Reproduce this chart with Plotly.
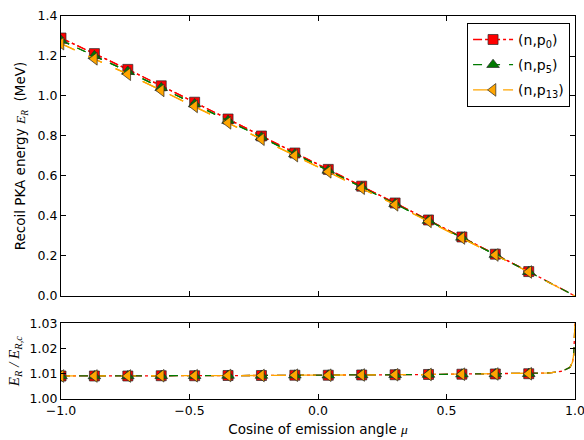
import plotly.graph_objects as go
from plotly.subplots import make_subplots

# ---- data ----
mu_markers = [-1.0, -0.87, -0.74, -0.61, -0.48, -0.35, -0.22, -0.09, 0.04, 0.17, 0.30, 0.43, 0.56, 0.69, 0.82]
e_p0 = [1.290, 1.212, 1.133, 1.051, 0.969, 0.885, 0.800, 0.715, 0.633, 0.549, 0.465, 0.380, 0.295, 0.209, 0.122]
e_p5 = [1.278, 1.201, 1.123, 1.041, 0.960, 0.877, 0.794, 0.710, 0.628, 0.545, 0.461, 0.377, 0.293, 0.207, 0.121]
e_p13 = [1.262, 1.186, 1.109, 1.028, 0.948, 0.866, 0.784, 0.702, 0.621, 0.539, 0.456, 0.373, 0.290, 0.205, 0.120]

mu_tail = [0.90, 0.95, 0.98, 0.99, 0.995, 1.0]
e_p0_tail = [0.068, 0.034, 0.0136, 0.0068, 0.0034, 0.0]
e_p5_tail = [0.067, 0.034, 0.0135, 0.0068, 0.0034, 0.0]
e_p13_tail = [0.066, 0.033, 0.0133, 0.0067, 0.0033, 0.0]

ratio_p0 = [1.0091, 1.0091, 1.0091, 1.0092, 1.0092, 1.0093, 1.0093, 1.0094, 1.0094, 1.0095, 1.0096, 1.0097, 1.0098, 1.0099, 1.0100]
ratio_p5 = [1.0091, 1.0091, 1.0091, 1.0092, 1.0092, 1.0093, 1.0093, 1.0094, 1.0094, 1.0095, 1.0096, 1.0097, 1.0098, 1.0099, 1.0100]
ratio_p13 = [1.0091, 1.0091, 1.0091, 1.0092, 1.0092, 1.0093, 1.0093, 1.0094, 1.0094, 1.0095, 1.0096, 1.0097, 1.0098, 1.0099, 1.0100]
ratio_tail = [1.0103, 1.0110, 1.0125, 1.0145, 1.0175, 1.030]

series_names = ["(n,p<sub>0</sub>)", "(n,p<sub>5</sub>)", "(n,p<sub>13</sub>)"]
colors = ["#ff0000", "#007a00", "#ffa500"]
symbols = ["square", "triangle-up", "triangle-left"]
dashes = ["dashdot", "dash", "longdash"]

MATH = "<span style=\"font-family:'Liberation Serif'\"><i>{}</i></span>"

fig = make_subplots(rows=2, cols=1, shared_xaxes=False, vertical_spacing=0.07,
                    row_heights=[0.73, 0.27])

E = [e_p0, e_p5, e_p13]
E_tail = [e_p0_tail, e_p5_tail, e_p13_tail]
R = [ratio_p0, ratio_p5, ratio_p13]

for i in range(3):
    fig.add_trace(go.Scatter(x=mu_markers + mu_tail, y=E[i] + E_tail[i], mode="lines",
                             line=dict(color=colors[i], width=1.3, dash=dashes[i]),
                             showlegend=False, hoverinfo="skip"), row=1, col=1)
    fig.add_trace(go.Scatter(x=mu_markers + mu_tail, y=R[i] + ratio_tail, mode="lines",
                             line=dict(color=colors[i], width=1.3, dash=dashes[i]),
                             showlegend=False, hoverinfo="skip"), row=2, col=1)

for i in range(3):
    mk = dict(symbol=symbols[i], size=10 if i == 0 else 11, color=colors[i],
              line=dict(color="rgba(40,40,40,0.7)", width=1))
    fig.add_trace(go.Scatter(x=mu_markers, y=E[i], mode="lines+markers", name=series_names[i],
                             legendgroup="g%d" % i,
                             marker=mk, line=dict(color=colors[i], width=1.3, dash=dashes[i])),
                  row=1, col=1)
    fig.add_trace(go.Scatter(x=mu_markers, y=R[i], mode="markers", marker=mk,
                             showlegend=False), row=2, col=1)

axis_common = dict(showline=True, linecolor="black", linewidth=1.2, mirror="ticks",
                   ticks="inside", ticklen=5, tickcolor="black", showgrid=False,
                   zeroline=False, automargin=False, ticklabeloverflow="allow",
                   tickfont=dict(size=12.5, color="black"))

fig.update_xaxes(range=[-1.0, 1.0], dtick=0.5, **axis_common)
fig.update_xaxes(showticklabels=False, row=1, col=1)
fig.update_xaxes(tickformat=".1f", row=2, col=1,
                 title=dict(text="Cosine of emission angle " + MATH.format("μ"),
                            font=dict(size=13.5, color="black"), standoff=7))
fig.update_yaxes(**axis_common)
fig.update_yaxes(range=[0, 1.4], dtick=0.2, tickformat=".1f", row=1, col=1,
                 title=dict(text="Recoil PKA energy " + MATH.format("E<sub>R</sub>") + "  (MeV)",
                            font=dict(size=13.5, color="black"), standoff=8))
fig.update_yaxes(range=[1.0, 1.03], dtick=0.01, tickformat=".2f", row=2, col=1,
                 title=dict(text=MATH.format("E<sub>R</sub> / E<sub>R,c</sub>"),
                            font=dict(size=15, color="black"), standoff=6))

fig.update_layout(
    width=584, height=440,
    margin=dict(l=61, r=9, t=16, b=41),
    paper_bgcolor="white", plot_bgcolor="white",
    font=dict(family="DejaVu Sans", size=12, color="black"),
    legend=dict(x=0.79, y=0.982, xanchor="left", yanchor="top",
                bordercolor="black", borderwidth=1, bgcolor="white",
                font=dict(size=14), tracegroupgap=4, itemwidth=40),
)
fig.update_layout(yaxis=dict(domain=[0.269, 1.0]), yaxis2=dict(domain=[0.0, 0.198]))

fig.write_html("out.html", config={"displayModeBar": False},
               post_script="document.body.style.margin='0px';document.body.style.overflow='hidden';")
